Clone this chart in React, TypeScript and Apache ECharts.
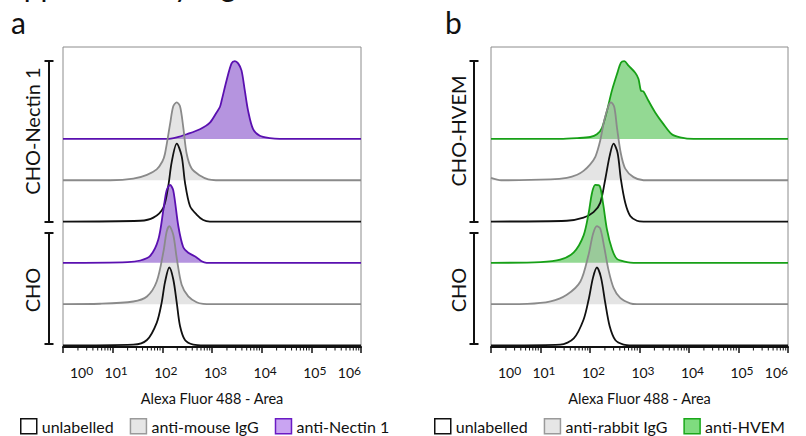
import { useEffect, useRef } from "react";
import * as echarts from "echarts";

type Pt = [number, number];

// ---------- data: [fluorescence (Alexa Fluor 488 - Area), % of mode] ----------
// Panel a
const A_CHO_UNLABELLED: Pt[] = [[1, 0], [26, 1], [49, 7], [77, 29], [97, 55], [113, 81], [138, 100], [166, 85], [195, 55], [227, 25], [286, 7], [420, 1], [700, 0], [1000000, 0]];
const A_CHO_MOUSE_IGG: Pt[] = [[1, 0], [5.6, 0.5], [26, 3.4], [49, 9.8], [77, 29], [105, 67], [122, 93], [138, 100], [166, 89], [195, 59], [245, 25], [333, 10], [490, 2.5], [666, 0.4], [1000, 0], [1000000, 0]];
const A_CHO_NECTIN: Pt[] = [[1, 0], [20, 1], [36, 3], [57, 9], [83, 30], [105, 68], [122, 93], [143, 100], [166, 93], [210, 47], [264, 20], [333, 13], [490, 7], [618, 2], [780, 0], [1000000, 0]];
const A_NEC_UNLABELLED: Pt[] = [[1, 0], [36, 1], [66, 5], [105, 18], [132, 46], [154, 76], [195, 100], [245, 84], [286, 50], [360, 20], [490, 9], [666, 2], [908, 0], [1000000, 0]];
const A_NEC_MOUSE_IGG: Pt[] = [[1, 0], [9, 0], [26, 2], [49, 7], [77, 14], [100, 24], [113, 34], [143, 72], [166, 95], [195, 100], [227, 95], [264, 68], [309, 34], [389, 15], [571, 6], [839, 1], [1200, 0], [1000000, 0]];
const A_NEC_NECTIN: Pt[] = [[1, 0], [122, 0], [195, 2], [309, 6], [571, 12.5], [908, 21], [1236, 34], [1442, 41], [1560, 49], [1964, 75], [2476, 97], [2884, 100], [3360, 97], [3926, 88], [4580, 62], [5335, 36], [6720, 12.5], [9160, 4], [14550, 1], [23070, 0], [1000000, 0]];
// Panel b
const B_CHO_UNLABELLED: Pt[] = [[1, 0], [25, 1], [47, 9], [74, 33], [94, 59], [115, 87], [138, 100], [167, 87], [203, 55], [249, 25], [324, 7], [476, 1], [700, 0], [1000000, 0]];
const B_CHO_RABBIT_IGG: Pt[] = [[1, 0], [5.4, 0.4], [16, 3.5], [34, 12], [64, 29], [94, 64], [115, 90], [138, 100], [161, 97], [194, 73], [238, 43], [299, 21], [408, 8], [650, 1], [887, 0], [1000000, 0]];
const B_CHO_HVEM: Pt[] = [[1, 0], [10, 1], [25, 4], [47, 13.5], [74, 35], [94, 64], [110, 90], [128, 100], [156, 99], [183, 77], [220, 43], [277, 18], [350, 5], [557, 1], [757, 0], [1000000, 0]];
const B_HV_UNLABELLED: Pt[] = [[1, 0], [34, 1], [74, 5], [118, 12], [161, 24], [203, 54], [249, 84], [299, 100], [361, 88], [421, 54], [515, 24], [650, 7], [887, 1], [1205, 0], [1000000, 0]];
const B_HV_RABBIT_IGG: Pt[] = [[1, 3], [1.6, 0], [16, 1], [34, 3], [55, 7], [74, 12], [100, 20], [128, 30], [161, 51], [194, 77], [238, 96], [265, 100], [309, 94], [350, 68], [421, 34], [515, 15], [757, 4], [1205, 0], [1000000, 0]];
const B_HV_HVEM: Pt[] = [[1, 0], [25, 0], [55, 1], [101, 2.5], [138, 6], [174, 14], [220, 36], [277, 62], [350, 83], [422, 98], [492, 100], [601, 94], [819, 85], [955, 77], [1067, 62], [1205, 61], [1517, 49], [2074, 34], [3050, 19], [4498, 6], [6620, 2], [12270, 0], [1000000, 0]];

const X_MIN = 1;
const X_MAX = 1000000;
const X_TITLE = "Alexa Fluor 488 - Area";
const LEGEND_A = ["unlabelled", "anti-mouse IgG", "anti-Nectin 1"];
const LEGEND_B = ["unlabelled", "anti-rabbit IgG", "anti-HVEM"];
const GROUPS_A = ["CHO-Nectin 1", "CHO"];
const GROUPS_B = ["CHO-HVEM", "CHO"];

// ---------- layout / style ----------
const Y_MIN = -2;
const Y_MAX = 383;
const OFFSETS = [0, 53, 106, 159, 212, 265];
const FONT = "Lato";
const BLACK = "#111111";
const GRAY_LINE = "#8a8a8a";
const GRAY_FILL = "rgba(170,170,170,0.32)";
const PURPLE_LINE = "#5a10b0";
const PURPLE_FILL = "rgba(128,70,200,0.58)";
const GREEN_LINE = "#17a017";
const GREEN_FILL = "rgba(40,180,40,0.5)";

function minorTicks(): number[] {
  const out: number[] = [];
  for (let d = X_MIN; d < X_MAX; d *= 10) {
    for (let m = 2; m <= 9; m++) out.push(m * d);
  }
  return out;
}

function trace(name: string, data: Pt[], offset: number, line: string, fill: string | null, idx: number) {
  return {
    type: "line",
    name,
    xAxisIndex: idx,
    yAxisIndex: idx,
    data: data.map(([x, y]) => [x, y + offset]),
    symbol: "none",
    showSymbol: false,
    smooth: 0.3,
    silent: true,
    lineStyle: { color: line, width: 1.8 },
    itemStyle: { color: line },
    areaStyle: fill ? { color: fill, origin: offset, opacity: 1 } : undefined,
  };
}

function minorTickSeries(idx: number) {
  return {
    type: "custom",
    name: "minor",
    xAxisIndex: idx,
    yAxisIndex: idx,
    silent: true,
    clip: false,
    data: minorTicks().map((v) => [v, Y_MIN]),
    renderItem: (_p: any, api: any) => {
      const c = api.coord([api.value(0), api.value(1)]);
      return {
        type: "line",
        shape: { x1: c[0], y1: c[1], x2: c[0], y2: c[1] + 3.5 },
        style: { stroke: BLACK, lineWidth: 1 },
      };
    },
  };
}

function xAxis(idx: number) {
  return {
    type: "log",
    gridIndex: idx,
    logBase: 10,
    min: X_MIN,
    max: X_MAX,
    name: X_TITLE,
    nameLocation: "middle",
    nameGap: 37,
    nameTextStyle: { fontFamily: FONT, fontSize: 14.5, color: BLACK },
    axisLine: { show: true, onZero: false, lineStyle: { color: BLACK, width: 2 } },
    axisTick: { show: true, length: 6, lineStyle: { color: BLACK, width: 1.5 } },
    splitLine: { show: false },
    minorTick: { show: false },
    axisLabel: {
      margin: 17,
      alignMinLabel: "left",
      alignMaxLabel: "right",
      formatter: (v: number) => {
        const k = Math.round(Math.log10(v));
        return `{h|${k}}{b|10}{s|${k}}`;
      },
      rich: {
        b: { fontFamily: FONT, fontSize: 14, color: BLACK, lineHeight: 15, verticalAlign: "bottom" },
        s: { fontFamily: FONT, fontSize: 12, color: BLACK, lineHeight: 12, verticalAlign: "top", padding: [0, 0, 10, 0] },
        h: { fontFamily: FONT, fontSize: 12, color: "transparent", lineHeight: 12, verticalAlign: "top", padding: [0, 0, 10, 0] },
      },
    },
  };
}

function yAxis(idx: number) {
  return { type: "value", gridIndex: idx, min: Y_MIN, max: Y_MAX, show: false };
}

function brackets(bx: number, tx: number, labels: string[]) {
  const seg = (y1: number, y2: number) => [
    { type: "line", shape: { x1: bx, y1, x2: bx, y2 }, style: { stroke: BLACK, lineWidth: 2 } },
    { type: "line", shape: { x1: bx - 4.5, y1, x2: bx + 4.5, y2: y1 }, style: { stroke: BLACK, lineWidth: 2 } },
    { type: "line", shape: { x1: bx - 4.5, y1: y2, x2: bx + 4.5, y2 }, style: { stroke: BLACK, lineWidth: 2 } },
  ];
  const txt = (s: string, y: number) => ({
    type: "text",
    x: tx,
    y,
    rotation: Math.PI / 2,
    style: { text: s, fontFamily: FONT, fontSize: 20, fill: BLACK, align: "center", verticalAlign: "middle" },
  });
  return [...seg(61, 222), ...seg(233, 344), txt(labels[0], 131), txt(labels[1], 290)];
}

function legend(left: number, gap: number, names: string[], third: { color: string; border: string }) {
  const styles = [
    { color: "#ffffff", borderColor: BLACK },
    { color: "#e6e6e6", borderColor: "#9a9a9a" },
    { color: third.color, borderColor: third.border },
  ];
  return {
    left,
    top: 418,
    padding: 0,
    orient: "horizontal",
    itemWidth: 16,
    itemHeight: 15,
    itemGap: gap,
    selectedMode: false,
    textStyle: { fontFamily: FONT, fontSize: 16, color: BLACK, lineHeight: 15 },
    data: names.map((n, i) => ({
      name: n,
      icon: "rect",
      itemStyle: { ...styles[i], borderWidth: 1.5 },
    })),
  };
}

export default function App() {
  const ref = useRef<HTMLDivElement>(null);
  useEffect(() => {
    if (!ref.current) return;
    const chart = echarts.init(ref.current, null, { renderer: "svg" });
    const option: any = {
      animation: false,
      backgroundColor: "#ffffff",
      textStyle: { fontFamily: FONT },
      grid: [
        { left: 63, top: 47, width: 298, height: 300, show: true, borderColor: "#8c8c8c", borderWidth: 1, backgroundColor: "transparent" },
        { left: 491, top: 47, width: 297, height: 300, show: true, borderColor: "#8c8c8c", borderWidth: 1, backgroundColor: "transparent" },
      ],
      xAxis: [xAxis(0), xAxis(1)],
      yAxis: [yAxis(0), yAxis(1)],
      legend: [
        legend(20, 16, LEGEND_A, { color: "#c9a4f2", border: "#6a1bc4" }),
        legend(434, 16, LEGEND_B, { color: "#7fdc7f", border: "#1aa81a" }),
      ],
      graphic: [
        { type: "text", x: -9, y: -15, style: { text: "Supplementary Figure 1", fontFamily: FONT, fontSize: 30, fill: BLACK, verticalAlign: "middle" } },
        { type: "text", x: 11, y: 22, style: { text: "a", fontFamily: FONT, fontSize: 30, fill: BLACK, verticalAlign: "middle" } },
        { type: "text", x: 445, y: 22, style: { text: "b", fontFamily: FONT, fontSize: 30, fill: BLACK, verticalAlign: "middle" } },
        ...brackets(49, 32, GROUPS_A),
        ...brackets(474, 458, GROUPS_B),
      ],
      series: [
        trace(LEGEND_A[2], A_NEC_NECTIN, OFFSETS[5], PURPLE_LINE, PURPLE_FILL, 0),
        trace(LEGEND_A[1], A_NEC_MOUSE_IGG, OFFSETS[4], GRAY_LINE, GRAY_FILL, 0),
        trace(LEGEND_A[0], A_NEC_UNLABELLED, OFFSETS[3], BLACK, null, 0),
        trace(LEGEND_A[2], A_CHO_NECTIN, OFFSETS[2], PURPLE_LINE, PURPLE_FILL, 0),
        trace(LEGEND_A[1], A_CHO_MOUSE_IGG, OFFSETS[1], GRAY_LINE, GRAY_FILL, 0),
        trace(LEGEND_A[0], A_CHO_UNLABELLED, OFFSETS[0], BLACK, null, 0),
        trace(LEGEND_B[2], B_HV_HVEM, OFFSETS[5], GREEN_LINE, GREEN_FILL, 1),
        trace(LEGEND_B[1], B_HV_RABBIT_IGG, OFFSETS[4], GRAY_LINE, GRAY_FILL, 1),
        trace(LEGEND_B[0], B_HV_UNLABELLED, OFFSETS[3], BLACK, null, 1),
        trace(LEGEND_B[2], B_CHO_HVEM, OFFSETS[2], GREEN_LINE, GREEN_FILL, 1),
        trace(LEGEND_B[1], B_CHO_RABBIT_IGG, OFFSETS[1], GRAY_LINE, GRAY_FILL, 1),
        trace(LEGEND_B[0], B_CHO_UNLABELLED, OFFSETS[0], BLACK, null, 1),
        minorTickSeries(0),
        minorTickSeries(1),
      ],
    };
    chart.setOption(option);
    return () => chart.dispose();
  }, []);
  return <div ref={ref} style={{ position: "absolute", left: 0, top: 0, width: 806, height: 436 }} />;
}
